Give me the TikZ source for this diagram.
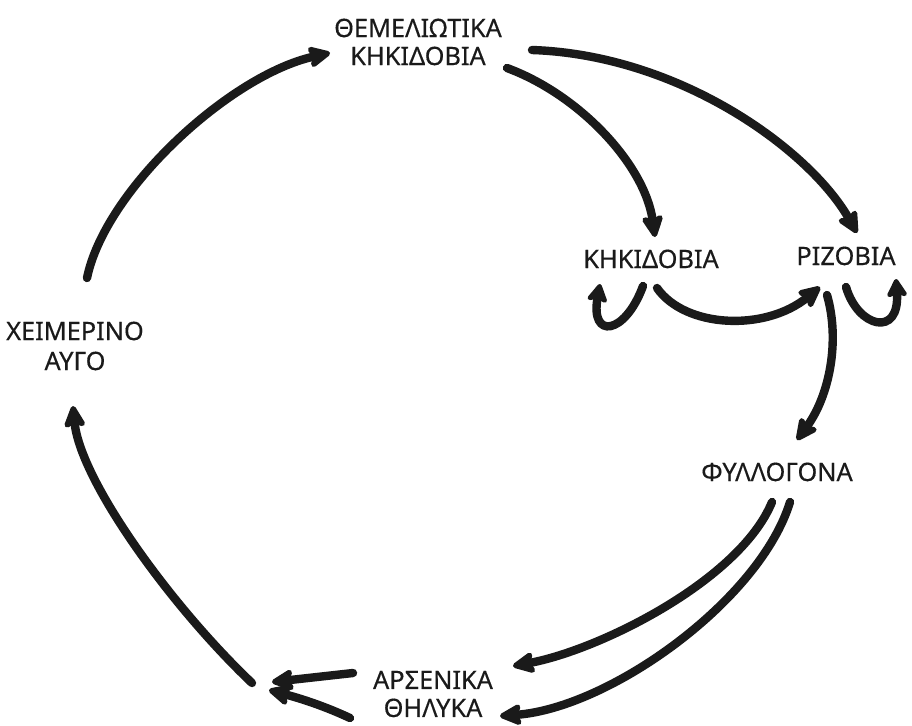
\documentclass[tikz,border=0pt]{standalone}
\usepackage{fontspec}
\setmainfont{Noto Sans}[FakeBold=0.35]
\usetikzlibrary{arrows.meta}
\definecolor{ink}{HTML}{1A1A1A}
\tikzset{
  lbl/.style={inner sep=0pt, text=ink, font=\fontsize{19}{21}\selectfont, align=center},
  conn/.style={draw=ink, line width=6.3pt, line cap=round,
    -{Stealth[length=20pt,width=19pt,inset=4pt,round]}},
  loopconn/.style={conn, -{Stealth[length=16pt,width=18pt,inset=3pt,round]}}
}
\begin{document}
\begin{tikzpicture}[x=0.75pt,y=-0.75pt]
\fill[white] (0,0) rectangle (912,725);
\useasboundingbox (0,0) rectangle (912,725);
% labels
\node[lbl] (found) at (418,42) {ΘΕΜΕΛΙΩΤΙΚΑ\\ΚΗΚΙΔΟΒΙΑ};
\node[lbl,anchor=base] (gall) at (651,268) {ΚΗΚΙΔΟΒΙΑ};
\node[lbl,anchor=base] (root) at (846,265) {ΡΙΖΟΒΙΑ};
\node[lbl,font=\fontsize{19}{22.5}\selectfont] (egg) at (75,346) {ΧΕΙΜΕΡΙΝΟ\\ΑΥΓΟ};
\node[lbl,anchor=base] (wing) at (777,481) {ΦΥΛΛΟΓΟΝΑ};
\node[lbl] (sex) at (433,694) {ΑΡΣΕΝΙΚΑ\\ΘΗΛΥΚΑ};
% connector end points
\coordinate (eggS) at (87,278);
\coordinate (foundE) at (330,53);
\coordinate (foundA) at (532,50);
\coordinate (rootE) at (857,233);
\coordinate (foundB) at (507,68);
\coordinate (gallE) at (655,237);
\coordinate (gallL1) at (643,286);
\coordinate (gallL2) at (600,284);
\coordinate (gallR) at (657,288);
\coordinate (rootW) at (820,287);
\coordinate (rootL1) at (846,287);
\coordinate (rootL2) at (896,279);
\coordinate (rootS) at (827,295);
\coordinate (wingN) at (797,440);
\coordinate (wingA) at (772,502);
\coordinate (maleE) at (513,666);
\coordinate (wingB) at (790,502);
\coordinate (femE) at (500,716);
\coordinate (maleW) at (353,673);
\coordinate (femW) at (350,718);
\coordinate (joinA) at (272,682);
\coordinate (joinB) at (269,690);
\coordinate (joinS) at (252,683);
\coordinate (eggE) at (73,406);
% connectors
\draw[conn] (eggS) .. controls (105,190) and (230,75) .. (foundE);
\draw[conn] (foundA) .. controls (680,55) and (810,150) .. (rootE);
\draw[conn] (foundB) .. controls (580,95) and (645,165) .. (gallE);
\draw[loopconn] (gallL1) .. controls (625,335) and (590,340) .. (gallL2);
\draw[conn] (gallR) .. controls (685,328) and (765,332) .. (rootW);
\draw[loopconn] (rootL1) .. controls (858,328) and (900,338) .. (rootL2);
\draw[conn] (rootS) .. controls (840,340) and (830,395) .. (wingN);
\draw[conn] (wingA) .. controls (740,580) and (600,650) .. (maleE);
\draw[conn] (wingB) .. controls (760,600) and (610,708) .. (femE);
\draw[conn] (maleW) -- (joinA);
\draw[conn] (femW) .. controls (320,704) and (295,697) .. (joinB);
\draw[conn] (joinS) .. controls (170,605) and (80,480) .. (eggE);
\end{tikzpicture}
\end{document}
